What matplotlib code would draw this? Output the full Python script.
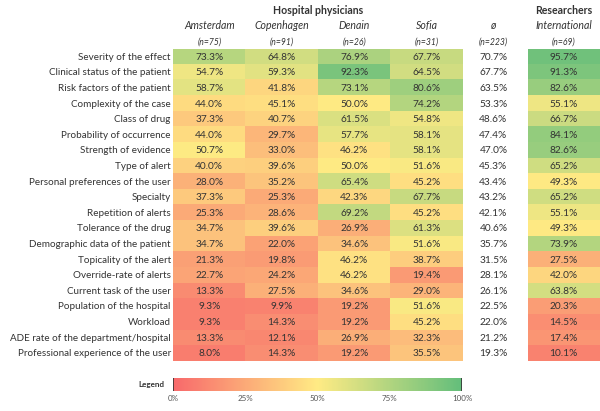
import matplotlib
matplotlib.use('Agg')
import matplotlib.pyplot as plt
import numpy as np
from matplotlib.colors import LinearSegmentedColormap, Normalize
from matplotlib.cm import ScalarMappable

plt.rcParams['font.family'] = ['Lato', 'DejaVu Sans']

factors = [
    'Severity of the effect', 'Clinical status of the patient', 'Risk factors of the patient',
    'Complexity of the case', 'Class of drug', 'Probability of occurrence',
    'Strength of evidence', 'Type of alert', 'Personal preferences of the user',
    'Specialty', 'Repetition of alerts', 'Tolerance of the drug',
    'Demographic data of the patient', 'Topicality of the alert', 'Override-rate of alerts',
    'Current task of the user', 'Population of the hospital', 'Workload',
    'ADE rate of the department/hospital', 'Professional experience of the user',
]
sites = ['Amsterdam', 'Copenhagen', 'Denain', 'Sofia']
site_n = ['(n=75)', '(n=91)', '(n=26)', '(n=31)']

amsterdam = [73.3, 54.7, 58.7, 44.0, 37.3, 44.0, 50.7, 40.0, 28.0, 37.3,
             25.3, 34.7, 34.7, 21.3, 22.7, 13.3, 9.3, 9.3, 13.3, 8.0]
copenhagen = [64.8, 59.3, 41.8, 45.1, 40.7, 29.7, 33.0, 39.6, 35.2, 25.3,
              28.6, 39.6, 22.0, 19.8, 24.2, 27.5, 9.9, 14.3, 12.1, 14.3]
denain = [76.9, 92.3, 73.1, 50.0, 61.5, 57.7, 46.2, 50.0, 65.4, 42.3,
          69.2, 26.9, 34.6, 46.2, 46.2, 34.6, 19.2, 19.2, 26.9, 19.2]
sofia = [67.7, 64.5, 80.6, 74.2, 54.8, 58.1, 58.1, 51.6, 45.2, 67.7,
         45.2, 61.3, 51.6, 38.7, 19.4, 29.0, 51.6, 45.2, 32.3, 35.5]
average = [70.7, 67.7, 63.5, 53.3, 48.6, 47.4, 47.0, 45.3, 43.4, 43.2,
           42.1, 40.6, 35.7, 31.5, 28.1, 26.1, 22.5, 22.0, 21.2, 19.3]
international = [95.7, 91.3, 82.6, 55.1, 66.7, 84.1, 82.6, 65.2, 49.3, 65.2,
                 55.1, 49.3, 73.9, 27.5, 42.0, 63.8, 20.3, 14.5, 17.4, 10.1]

legend_ticks = [0, 25, 50, 75, 100]

cmap = LinearSegmentedColormap.from_list('ryg', ['#F8696B', '#FFEB84', '#63BE7B'])
norm = Normalize(0, 100)
txt = '#333333'

fig = plt.figure(figsize=(6, 4.11), dpi=100)
W, H = 600, 411
top, bottom = 49.5, 361.5

# main table axes (pixel layout)
ax = fig.add_axes([173 / W, 1 - bottom / H, 427 / W, (bottom - top) / H])
nrow = len(factors)
phys = np.column_stack([amsterdam, copenhagen, denain, sofia])
ax.imshow(phys, cmap=cmap, norm=norm, aspect='auto', extent=(0, 4, nrow, 0))
x_avg = 4.42
x_int0 = 4.89
ax.imshow(np.array(international)[:, None], cmap=cmap, norm=norm, aspect='auto',
          extent=(x_int0, x_int0 + 1, nrow, 0))
ax.set_xlim(0, x_int0 + 1)
ax.set_ylim(nrow, 0)
ax.axis('off')

fs = 7.3
for i in range(nrow):
    y = i + 0.5
    for j in range(4):
        ax.text(j + 0.5, y, f'{phys[i, j]:.1f}%', ha='center', va='center',
                fontsize=fs, color=txt)
    ax.text(x_avg, y, f'{average[i]:.1f}%', ha='center', va='center', fontsize=fs, color=txt)
    ax.text(x_int0 + 0.5, y, f'{international[i]:.1f}%', ha='center', va='center',
            fontsize=fs, color=txt)
    ax.text(-0.03, y, factors[i], ha='right', va='center', fontsize=7.1, color=txt,
            clip_on=False)

# headers
rh = (bottom - top) / nrow

def py(p):
    return (p - top) / rh

ax.text(2, py(10), 'Hospital physicians', ha='center', va='center', fontsize=7.6,
        fontweight='bold', color=txt, clip_on=False)
ax.text(x_int0 + 0.5, py(10), 'Researchers', ha='center', va='center', fontsize=7.6,
        fontweight='bold', color=txt, clip_on=False)
for j, (s, n) in enumerate(zip(sites, site_n)):
    ax.text(j + 0.5, py(25.5), s, ha='center', va='center', fontsize=7.6,
            style='italic', color=txt, clip_on=False)
    ax.text(j + 0.5, py(42), n, ha='center', va='center', fontsize=6.2,
            style='italic', color=txt, clip_on=False)
ax.text(x_avg, py(25.5), 'ø', ha='center', va='center', fontsize=7.6, style='italic',
        color=txt, clip_on=False)
ax.text(x_avg, py(42), '(n=223)', ha='center', va='center', fontsize=6.2, style='italic',
        color=txt, clip_on=False)
ax.text(x_int0 + 0.5, py(25.5), 'International', ha='center', va='center', fontsize=7.6,
        style='italic', color=txt, clip_on=False)
ax.text(x_int0 + 0.5, py(42), '(n=69)', ha='center', va='center', fontsize=6.2,
        style='italic', color=txt, clip_on=False)

# legend colour bar
cax = fig.add_axes([173 / W, 1 - 391 / H, 289 / W, 13 / H])
cb = fig.colorbar(ScalarMappable(norm=norm, cmap=cmap), cax=cax, orientation='horizontal')
cb.outline.set_visible(False)
cb.set_ticks(legend_ticks)
cb.set_ticklabels([f'{t}%' for t in legend_ticks])
cax.tick_params(length=0, labelsize=5.8, labelcolor='#555555', pad=3)
for t in (0, 100):
    cax.axvline(t, color='#333333', lw=1.2)
fig.text(151 / W, 1 - 384.5 / H, 'Legend', ha='center', va='center', fontsize=5.8,
         fontweight='bold', color=txt)

fig.savefig('out.png', dpi=100, facecolor='white')
